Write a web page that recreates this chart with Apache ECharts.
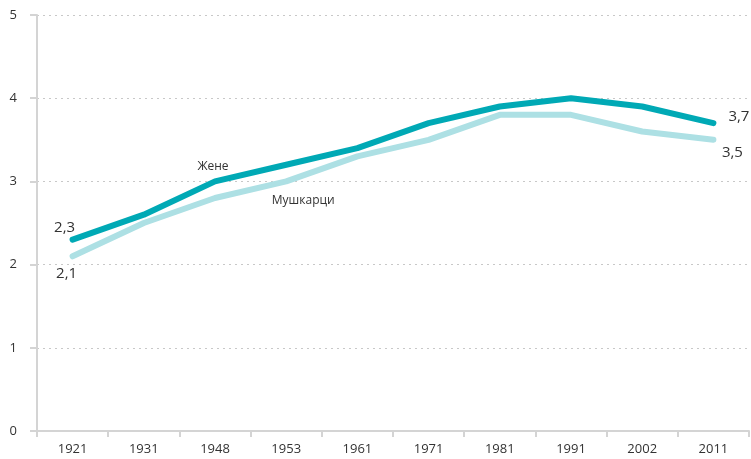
<!DOCTYPE html>
<html>
<head>
<meta charset="utf-8">
<script src="https://cdn.jsdelivr.net/npm/echarts@6/dist/echarts.min.js"></script>
<style>
  html, body { margin: 0; padding: 0; background: #fff; }
  #chart { width: 751px; height: 459px; }
</style>
</head>
<body>
<div id="chart"></div>
<script>
// подаци
const years = ["1921", "1931", "1948", "1953", "1961", "1971", "1981", "1991", "2002", "2011"];
const zene = [2.3, 2.6, 3.0, 3.2, 3.4, 3.7, 3.9, 4.0, 3.9, 3.7];
const muskarci = [2.1, 2.5, 2.8, 3.0, 3.3, 3.5, 3.8, 3.8, 3.6, 3.5];

const fontFam = "'Open Sans', 'Noto Sans', sans-serif";
const fmt = (v) => String(v).replace(".", ",");

function withLabels(values, labels) {
  return values.map((v, i) => {
    if (!labels[i]) return v;
    return { value: v, label: Object.assign({ show: true, color: "#333", fontFamily: fontFam }, labels[i]) };
  });
}

const zeneData = withLabels(zene, {
  0: { position: "top", offset: [-8, 1], fontSize: 15, formatter: (p) => fmt(p.value) },
  2: { position: "top", offset: [-2, -4], fontSize: 12, formatter: "Жене" },
  9: { position: "right", offset: [10, -6], fontSize: 15, formatter: (p) => fmt(p.value) },
});
const muskarciData = withLabels(muskarci, {
  0: { position: "bottom", offset: [-6, 5], fontSize: 15, formatter: (p) => fmt(p.value) },
  3: { position: "bottom", offset: [17, 8], fontSize: 12, formatter: "Мушкарци" },
  9: { position: "bottom", offset: [19, 0], fontSize: 15, formatter: (p) => fmt(p.value) },
});

const chart = echarts.init(document.getElementById("chart"));
const option = {
  animation: false,
  grid: { left: 37, right: 2, top: 15, bottom: 28 },
  xAxis: {
    type: "category",
    data: years,
    boundaryGap: true,
    axisLine: { lineStyle: { color: "#d4d4d4", width: 2 } },
    axisTick: { show: true, length: 6, lineStyle: { color: "#d4d4d4", width: 2 } },
    axisLabel: { color: "#333", fontSize: 13, fontFamily: fontFam, margin: 12 },
  },
  yAxis: {
    type: "value",
    min: 0,
    max: 5,
    interval: 1,
    axisLine: { show: true, lineStyle: { color: "#d4d4d4", width: 2 } },
    axisTick: { show: true, length: 7, lineStyle: { color: "#d4d4d4", width: 2 } },
    axisLabel: { color: "#333", fontSize: 13, fontFamily: fontFam, margin: 20 },
    splitLine: { lineStyle: { color: "#c8c8c8", type: [2, 4], width: 1 } },
  },
  series: [
    {
      name: "Мушкарци",
      type: "line",
      data: muskarciData,
      symbol: "circle",
      symbolSize: 0,
      lineStyle: { color: "#ade0e4", width: 6, cap: "round", join: "round" },
      itemStyle: { color: "#ade0e4" },
    },
    {
      name: "Жене",
      type: "line",
      data: zeneData,
      symbol: "circle",
      symbolSize: 0,
      lineStyle: { color: "#00a9b5", width: 6, cap: "round", join: "round" },
      itemStyle: { color: "#00a9b5" },
    },
  ],
};
chart.setOption(option);
</script>
</body>
</html>
